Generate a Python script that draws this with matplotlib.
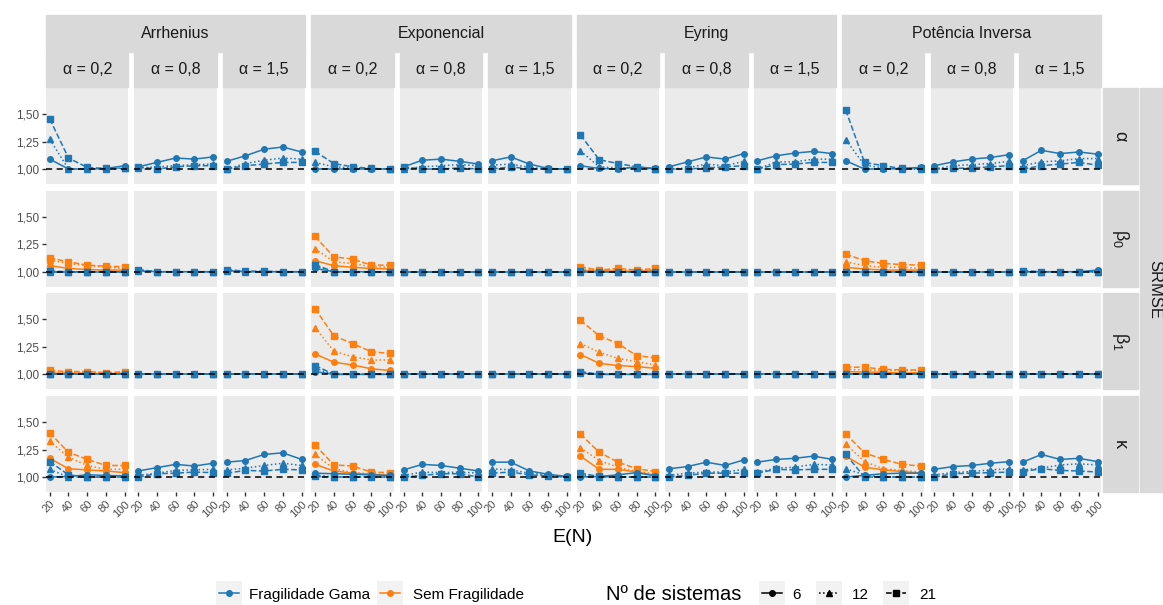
import numpy as np
import matplotlib.pyplot as plt
from matplotlib.lines import Line2D
from matplotlib.patches import Rectangle

plt.rcParams['font.family'] = ['Liberation Sans', 'DejaVu Sans']
plt.rcParams['mathtext.default'] = 'regular'

modelos = ['Arrhenius', 'Exponencial', 'Eyring', 'Potência Inversa']
alfas = ['0,2', '0,8', '1,5']
parametros = [r'$\alpha$', r'$\beta_0$', r'$\beta_1$', r'$\kappa$']
en = [20, 40, 60, 80, 100]
n_sistemas = ['6', '12', '21']

# Fragilidade Gama: one block per panel (modelo x alfa), rows = 6, 12, 21 sistemas
gama_alpha = [
    [[1.09, 1.00, 1.00, 1.005, 1.03], [1.27, 1.00, 1.00, 1.00, 1.01], [1.455, 1.10, 1.015, 1.005, 1.005]],
    [[1.02, 1.06, 1.10, 1.09, 1.11], [1.01, 1.02, 1.03, 1.04, 1.045], [1.02, 1.00, 1.02, 1.03, 1.03]],
    [[1.07, 1.12, 1.18, 1.20, 1.155], [1.00, 1.05, 1.08, 1.10, 1.09], [1.00, 1.03, 1.045, 1.06, 1.06]],
    [[1.00, 1.00, 1.00, 1.00, 1.00], [1.06, 1.02, 1.01, 1.005, 1.00], [1.16, 1.05, 1.02, 1.005, 1.00]],
    [[1.02, 1.08, 1.09, 1.07, 1.045], [1.00, 1.02, 1.03, 1.04, 1.03], [1.02, 1.00, 1.00, 1.01, 1.00]],
    [[1.075, 1.11, 1.045, 1.005, 1.00], [1.035, 1.045, 1.015, 1.00, 1.00], [1.00, 1.02, 1.00, 1.00, 1.00]],
    [[1.03, 1.005, 1.00, 1.02, 1.005], [1.165, 1.02, 1.01, 1.01, 1.00], [1.31, 1.085, 1.05, 1.02, 1.00]],
    [[1.02, 1.065, 1.11, 1.09, 1.14], [1.00, 1.01, 1.045, 1.03, 1.07], [1.00, 1.00, 1.01, 1.02, 1.03]],
    [[1.075, 1.12, 1.145, 1.16, 1.14], [1.00, 1.065, 1.065, 1.09, 1.09], [1.00, 1.04, 1.045, 1.06, 1.06]],
    [[1.075, 1.00, 1.00, 1.005, 1.015], [1.265, 1.035, 1.01, 1.00, 1.00], [1.535, 1.06, 1.03, 1.005, 1.005]],
    [[1.03, 1.065, 1.09, 1.105, 1.13], [1.00, 1.03, 1.04, 1.05, 1.07], [1.00, 1.005, 1.01, 1.02, 1.03]],
    [[1.075, 1.17, 1.14, 1.155, 1.135], [1.03, 1.065, 1.075, 1.095, 1.095], [1.00, 1.03, 1.045, 1.06, 1.035]],
]
gama_beta0 = [
    [[1.00, 1.00, 1.00, 1.00, 1.00], [1.00, 1.00, 1.00, 1.00, 1.00], [1.005, 1.00, 1.00, 1.00, 1.00]],
    [[1.01, 1.00, 1.00, 1.00, 1.00], [1.01, 1.00, 1.00, 1.00, 1.00], [1.02, 1.00, 1.00, 1.00, 1.00]],
    [[1.01, 1.00, 1.00, 1.00, 1.00], [1.01, 1.00, 1.00, 1.00, 1.00], [1.02, 1.005, 1.005, 1.00, 1.00]],
    [[1.03, 1.00, 1.00, 1.00, 1.00], [1.05, 1.00, 1.00, 1.00, 1.00], [1.065, 1.00, 1.00, 1.00, 1.00]],
    [[1.00, 1.00, 1.00, 1.00, 1.00], [1.00, 1.00, 1.00, 1.00, 1.00], [1.00, 1.00, 1.00, 1.00, 1.00]],
    [[1.00, 1.00, 1.00, 1.00, 1.00], [1.00, 1.00, 1.00, 1.00, 1.00], [1.00, 1.00, 1.00, 1.00, 1.00]],
    [[1.00, 1.00, 1.00, 1.00, 1.00], [1.00, 1.00, 1.00, 1.00, 1.00], [1.005, 1.00, 1.00, 1.00, 1.00]],
    [[1.00, 1.00, 1.00, 1.00, 1.00], [1.00, 1.00, 1.00, 1.00, 1.00], [1.00, 1.00, 1.00, 1.00, 1.00]],
    [[1.00, 1.00, 1.00, 1.00, 1.00], [1.00, 1.00, 1.00, 1.00, 1.00], [1.00, 1.00, 1.00, 1.00, 1.00]],
    [[1.00, 1.00, 1.00, 1.00, 1.00], [1.00, 1.00, 1.00, 1.00, 1.00], [1.00, 1.00, 1.00, 1.00, 1.00]],
    [[1.00, 1.00, 1.00, 1.00, 1.00], [1.00, 1.00, 1.00, 1.00, 1.00], [1.00, 1.00, 1.00, 1.00, 1.00]],
    [[1.00, 1.00, 1.00, 1.00, 1.015], [1.00, 1.00, 1.00, 1.00, 1.00], [1.01, 1.00, 1.00, 1.00, 1.00]],
]
gama_beta1 = [
    [[1.00, 1.00, 1.00, 1.00, 1.00], [1.00, 1.00, 1.00, 1.00, 1.00], [1.00, 1.00, 1.00, 1.00, 1.00]],
    [[1.00, 1.00, 1.00, 1.00, 1.00], [1.00, 1.00, 1.00, 1.00, 1.00], [1.00, 1.00, 1.00, 1.00, 1.00]],
    [[1.00, 1.00, 1.00, 1.00, 1.00], [1.00, 1.00, 1.00, 1.00, 1.00], [1.00, 1.00, 1.00, 1.00, 1.00]],
    [[1.025, 1.00, 1.00, 1.00, 1.00], [1.055, 1.00, 1.00, 1.00, 1.00], [1.08, 1.00, 1.00, 1.00, 1.00]],
    [[1.00, 1.00, 1.00, 1.00, 1.00], [1.00, 1.00, 1.00, 1.00, 1.00], [1.00, 1.00, 1.00, 1.00, 1.00]],
    [[1.00, 1.00, 1.00, 1.00, 1.00], [1.00, 1.00, 1.00, 1.00, 1.00], [1.00, 1.00, 1.00, 1.00, 1.00]],
    [[1.01, 1.00, 1.00, 1.00, 1.00], [1.015, 1.00, 1.00, 1.00, 1.00], [1.025, 1.00, 1.00, 1.00, 1.00]],
    [[1.00, 1.00, 1.00, 1.00, 1.00], [1.00, 1.00, 1.00, 1.00, 1.00], [1.00, 1.00, 1.00, 1.00, 1.00]],
    [[1.00, 1.00, 1.00, 1.00, 1.00], [1.00, 1.00, 1.00, 1.00, 1.00], [1.00, 1.00, 1.00, 1.00, 1.00]],
    [[1.00, 1.00, 1.00, 1.00, 1.00], [1.00, 1.00, 1.00, 1.00, 1.00], [1.00, 1.00, 1.00, 1.00, 1.00]],
    [[1.00, 1.00, 1.00, 1.00, 1.00], [1.00, 1.00, 1.00, 1.00, 1.00], [1.00, 1.00, 1.00, 1.00, 1.00]],
    [[1.00, 1.00, 1.00, 1.00, 1.00], [1.00, 1.00, 1.00, 1.00, 1.00], [1.00, 1.00, 1.00, 1.00, 1.00]],
]
gama_kappa = [
    [[1.00, 1.005, 1.02, 1.015, 1.01], [1.07, 1.00, 1.00, 1.00, 1.00], [1.14, 1.02, 1.00, 1.00, 1.00]],
    [[1.055, 1.085, 1.115, 1.10, 1.125], [1.015, 1.035, 1.06, 1.065, 1.07], [1.00, 1.03, 1.035, 1.045, 1.04]],
    [[1.135, 1.15, 1.205, 1.22, 1.16], [1.065, 1.08, 1.105, 1.125, 1.105], [1.035, 1.06, 1.055, 1.07, 1.065]],
    [[1.035, 1.03, 1.025, 1.02, 1.015], [1.02, 1.00, 1.00, 1.005, 1.00], [1.005, 1.00, 1.00, 1.00, 1.00]],
    [[1.065, 1.115, 1.105, 1.08, 1.055], [1.015, 1.045, 1.04, 1.045, 1.035], [1.00, 1.015, 1.03, 1.03, 1.00]],
    [[1.135, 1.135, 1.055, 1.025, 1.005], [1.075, 1.065, 1.035, 1.02, 1.00], [1.035, 1.045, 1.02, 1.01, 1.00]],
    [[1.00, 1.005, 1.02, 1.04, 1.01], [1.02, 1.00, 1.00, 1.00, 1.00], [1.035, 1.005, 1.00, 1.00, 1.00]],
    [[1.075, 1.095, 1.135, 1.105, 1.155], [1.015, 1.035, 1.045, 1.045, 1.07], [1.00, 1.015, 1.035, 1.035, 1.035]],
    [[1.135, 1.16, 1.17, 1.19, 1.16], [1.045, 1.08, 1.09, 1.115, 1.11], [1.035, 1.07, 1.065, 1.07, 1.07]],
    [[1.00, 1.015, 1.03, 1.035, 1.035], [1.075, 1.02, 1.00, 1.00, 1.00], [1.205, 1.00, 1.00, 1.00, 1.00]],
    [[1.07, 1.095, 1.105, 1.125, 1.14], [1.02, 1.04, 1.05, 1.065, 1.075], [1.00, 1.03, 1.035, 1.04, 1.045]],
    [[1.135, 1.205, 1.16, 1.17, 1.14], [1.065, 1.08, 1.11, 1.12, 1.11], [1.05, 1.075, 1.06, 1.055, 1.045]],
]

# Sem Fragilidade: only in the alfa = 0,2 column of each modelo
sem_beta0 = [
    [[1.055, 1.03, 1.02, 1.015, 1.015], [1.105, 1.075, 1.055, 1.04, 1.03], [1.125, 1.09, 1.06, 1.05, 1.045]],
    [[1.10, 1.055, 1.04, 1.03, 1.025], [1.21, 1.09, 1.075, 1.045, 1.04], [1.32, 1.135, 1.115, 1.06, 1.06]],
    [[1.01, 1.01, 1.005, 1.005, 1.01], [1.02, 1.02, 1.015, 1.01, 1.02], [1.045, 1.015, 1.03, 1.015, 1.03]],
    [[1.04, 1.025, 1.015, 1.015, 1.015], [1.09, 1.055, 1.04, 1.04, 1.03], [1.16, 1.10, 1.075, 1.065, 1.06]],
]
sem_beta1 = [
    [[1.01, 1.01, 1.01, 1.005, 1.01], [1.02, 1.015, 1.02, 1.01, 1.015], [1.035, 1.025, 1.025, 1.015, 1.025]],
    [[1.185, 1.11, 1.085, 1.05, 1.035], [1.425, 1.21, 1.16, 1.13, 1.13], [1.595, 1.35, 1.28, 1.205, 1.19]],
    [[1.18, 1.10, 1.08, 1.07, 1.055], [1.28, 1.20, 1.145, 1.115, 1.085], [1.49, 1.35, 1.28, 1.17, 1.15]],
    [[1.025, 1.02, 1.02, 1.01, 1.015], [1.045, 1.04, 1.035, 1.035, 1.035], [1.065, 1.065, 1.045, 1.04, 1.04]],
]
sem_kappa = [
    [[1.17, 1.075, 1.065, 1.055, 1.04], [1.325, 1.18, 1.105, 1.07, 1.07], [1.40, 1.225, 1.16, 1.105, 1.105]],
    [[1.115, 1.055, 1.035, 1.025, 1.015], [1.205, 1.075, 1.04, 1.03, 1.02], [1.29, 1.11, 1.10, 1.045, 1.04]],
    [[1.19, 1.07, 1.07, 1.045, 1.015], [1.265, 1.15, 1.09, 1.05, 1.03], [1.39, 1.225, 1.135, 1.075, 1.05]],
    [[1.19, 1.09, 1.065, 1.05, 1.035], [1.30, 1.14, 1.075, 1.06, 1.045], [1.39, 1.22, 1.16, 1.115, 1.10]],
]

gama = [gama_alpha, gama_beta0, gama_beta1, gama_kappa]
sem = [None, sem_beta0, sem_beta1, sem_kappa]

azul = '#1F77B4'
laranja = '#FF7F0E'
estilos = [('-', 'o'), (':', '^'), ('--', 's')]
painel_bg = '#EBEBEB'
strip_bg = '#D9D9D9'

W, H = 1163, 605
fig = plt.figure(figsize=(W / 100, H / 100), dpi=100)


def box(x0, y0, x1, y1):
    # pixel box (top-left origin) -> figure fraction rect
    return [x0 / W, 1 - y1 / H, (x1 - x0) / W, (y1 - y0) / H]


pw, gap = 82.4, 6.05
tops = [88, 190.7, 293.3, 396]
ph = 96

for c in range(12):
    left = 46 + c * (pw + gap)
    m, a = divmod(c, 3)
    # alpha strip
    fig.patches.append(Rectangle((left / W, 1 - 87 / H), pw / W, 34 / H,
                                 transform=fig.transFigure, color=strip_bg, zorder=0))
    fig.text((left + pw / 2) / W, 1 - 70 / H, 'α = ' + alfas[a], ha='center', va='center',
             fontsize=11.5, color='#1A1A1A')
    for r in range(4):
        ax = fig.add_axes(box(left, tops[r], left + pw, tops[r] + ph))
        ax.set_facecolor(painel_bg)
        for s in ax.spines.values():
            s.set_visible(False)
        ax.set_xlim(16, 104)
        ax.set_ylim(0.864, 1.736)
        ax.set_xticks(en)
        ax.set_yticks([1.0, 1.25, 1.5])
        ax.tick_params(length=3, width=1, color='#333333', labelsize=8, labelcolor='#4D4D4D', pad=2)
        if c == 0:
            ax.set_yticklabels(['1,00', '1,25', '1,50'], fontsize=8.5)
        else:
            ax.tick_params(axis='y', length=0, labelleft=False)
        if r == 3:
            ax.set_xticklabels([str(v) for v in en], rotation=45, ha='right', va='top',
                               rotation_mode='anchor', fontsize=8)
        else:
            ax.tick_params(axis='x', length=0, labelbottom=False)

        if sem[r] is not None and a == 0:
            for k, (ls, mk) in enumerate(estilos):
                ax.plot(en, sem[r][m][k], color=laranja, ls=ls, marker=mk, ms=4, lw=1.1)
        for k, (ls, mk) in enumerate(estilos):
            ax.plot(en, gama[r][c][k], color=azul, ls=ls, marker=mk, ms=4, lw=1.1)
        ax.axhline(1.0, color='black', ls=(0, (4, 3)), lw=1.1, zorder=5)

# model strips
for m in range(4):
    left = 46 + 3 * m * (pw + gap)
    right = left + 3 * pw + 2 * gap
    fig.patches.append(Rectangle((left / W, 1 - 52 / H), (right - left) / W, 37 / H,
                                 transform=fig.transFigure, color=strip_bg, zorder=0))
    fig.text((left + right) / 2 / W, 1 - 33.5 / H, modelos[m], ha='center', va='center',
             fontsize=11.5, color='#1A1A1A')

# parameter strips on the right
for r in range(4):
    fig.patches.append(Rectangle((1103 / W, 1 - (tops[r] + ph) / H), 35 / W, ph / H,
                                 transform=fig.transFigure, color=strip_bg, zorder=0))
    fig.text(1120 / W, 1 - (tops[r] + ph / 2) / H, parametros[r], ha='center', va='center',
             rotation=-90, fontsize=13, color='#1A1A1A')
fig.patches.append(Rectangle((1140 / W, 1 - 492 / H), 30 / W, 404 / H,
                             transform=fig.transFigure, color=strip_bg, zorder=0))
fig.text(1155 / W, 1 - 290 / H, 'SRMSE', ha='center', va='center', rotation=-90,
         fontsize=12, color='#1A1A1A')

fig.text(573 / W, 1 - 537 / H, 'E(N)', ha='center', va='center', fontsize=14)

# legend
def chave(x0, cor, ls, mk):
    k = fig.add_axes(box(x0, 581, x0 + 26, 605))
    k.set_facecolor('#F2F2F2')
    for s in k.spines.values():
        s.set_visible(False)
    k.set_xticks([])
    k.set_yticks([])
    k.set_xlim(0, 1)
    k.set_ylim(0, 1)
    k.add_line(Line2D([0.1, 0.9], [0.5, 0.5], color=cor, ls=ls, lw=1.1))
    k.plot([0.5], [0.5], marker=mk, color=cor, ms=4)

chave(216, azul, '-', 'o')
fig.text(249 / W, 1 - 595 / H, 'Fragilidade Gama', ha='left', va='center', fontsize=11)
chave(377, laranja, '-', 'o')
fig.text(413 / W, 1 - 595 / H, 'Sem Fragilidade', ha='left', va='center', fontsize=11)
fig.text(606 / W, 1 - 595 / H, 'Nº de sistemas', ha='left', va='center', fontsize=14.5)
for x0, xt, (ls, mk), lab in zip([759, 816, 883], [792, 852, 919], estilos, n_sistemas):
    chave(x0, 'black', ls, mk)
    fig.text(xt / W, 1 - 595 / H, lab, ha='left', va='center', fontsize=11)

fig.savefig('out.png', dpi=100)
